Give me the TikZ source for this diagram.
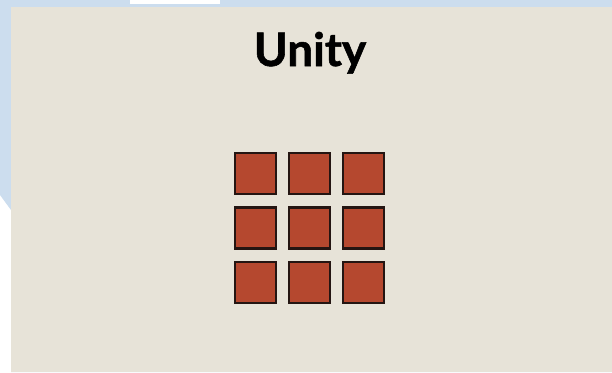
\documentclass[tikz,border=0pt]{standalone}
\usepackage{fontspec}
\setmainfont{Lato}[BoldFeatures={FakeBold=1.2}]
\definecolor{bgblue}{HTML}{CCDDEE}
\definecolor{panel}{HTML}{E7E3D8}
\definecolor{brick}{HTML}{B5482F}
\definecolor{edge}{HTML}{241512}
\begin{document}
\begin{tikzpicture}[x=1pt,y=-1pt,
  cell/.style={draw=edge,line width=2.4pt,fill=brick,minimum size=41pt,inner sep=0pt}]
\useasboundingbox (0,0) rectangle (612,372);
\fill[white] (0,0) rectangle (612,372);
\fill[bgblue] (0,0) -- (612,0) -- (612,372) -- (11,372) -- (11,210) -- (0,195) -- cycle;
\fill[white] (130,0) rectangle (220,4);
\fill[panel] (11,7) rectangle (612,372);
\node[font=\fontsize{46}{52}\selectfont\bfseries,anchor=base,inner sep=0pt] (title) at (310,66) {Unity};
\foreach \r in {0,1,2}{
  \foreach \c in {0,1,2}{
    \node[cell] (s\r\c) at (255.5+54*\c, 173.5+54.5*\r) {};
  }
}
\end{tikzpicture}
\end{document}
